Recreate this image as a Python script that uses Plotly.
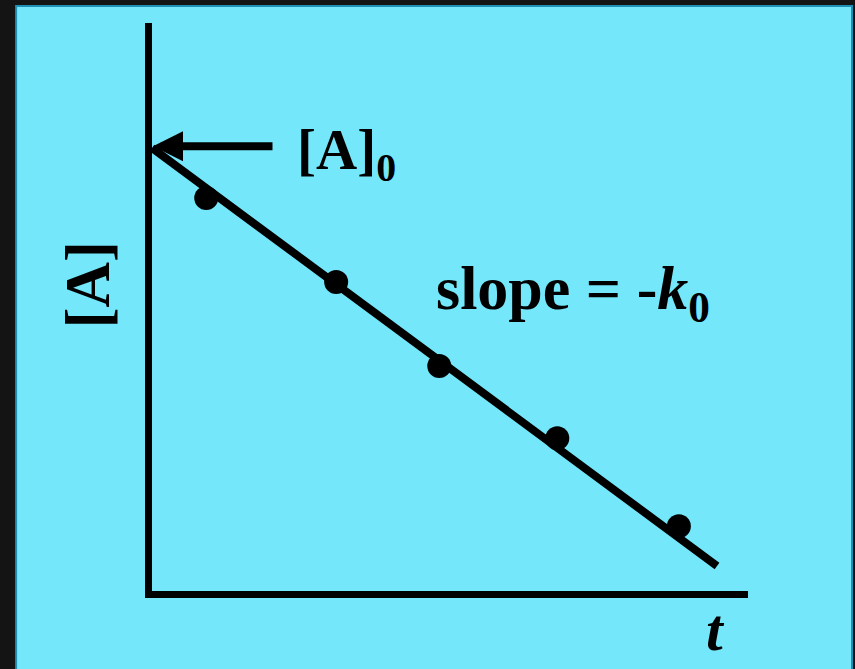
import plotly.graph_objects as go

# measured concentration vs time (arbitrary units)
t_pts = [0.91, 3.09, 4.82, 6.80, 8.84]
conc_pts = [6.92, 5.44, 3.96, 2.69, 1.14]

# zero-order fit line: [A] = [A]0 - k0*t
t_fit = [0.0, 9.48]
conc_fit = [7.80, 0.44]
a0 = conc_fit[0]

serif = "Liberation Serif"
cyan = "#74e8fa"

fig = go.Figure()
fig.add_trace(go.Scatter(x=t_fit, y=conc_fit, mode="lines",
                         line=dict(color="black", width=8), hoverinfo="skip"))
fig.add_trace(go.Scatter(x=t_pts, y=conc_pts, mode="markers",
                         marker=dict(color="black", size=24)))

# panel behind the plot
fig.add_shape(type="rect", xref="paper", yref="paper",
              x0=-0.228, x1=1.1745, y0=-0.2, y1=1.03,
              fillcolor=cyan, line=dict(color="#1f8fb4", width=2), layer="below")

# arrow to the intercept
fig.add_annotation(x=0, y=a0 + 0.03, ax=122, ay=0, text="", showarrow=True,
                   arrowhead=2, arrowsize=0.75, arrowwidth=8, arrowcolor="black", standoff=1)
fig.add_annotation(x=2.40, y=7.70, xanchor="left", yanchor="middle", showarrow=False,
                   text="<b>[A]<sub>0</sub></b>", font=dict(family=serif, size=57, color="black"))
fig.add_annotation(x=4.73, y=5.25, xanchor="left", yanchor="middle", showarrow=False,
                   text="<b>slope = -<i>k</i><sub>0</sub></b>", font=dict(family=serif, size=62, color="black"))
fig.add_annotation(x=-0.108, y=0.539, xref="paper", yref="paper", xanchor="center", yanchor="middle",
                   textangle=-90, showarrow=False,
                   text="<b>[A]</b>", font=dict(family=serif, size=63, color="black"))
fig.add_annotation(x=0.946, y=-0.069, xref="paper", yref="paper", xanchor="center", yanchor="middle",
                   showarrow=False,
                   text="<b><i>t</i></b>", font=dict(family=serif, size=60, color="black"))

axis = dict(showline=True, linecolor="black", linewidth=7, showgrid=False,
            zeroline=False, showticklabels=False, ticks="", range=[0, 10], fixedrange=True)
fig.update_xaxes(**axis)
fig.update_yaxes(**axis)

fig.update_layout(
    width=855, height=669,
    margin=dict(l=152, r=107, t=23, b=78),
    paper_bgcolor="#141414",
    plot_bgcolor=cyan,
    showlegend=False,
)

# drop the default 8px page margin so the figure sits at the window corner
fig.write_html("out.html", config={"displayModeBar": False},
               post_script="document.body.style.margin='0';")
